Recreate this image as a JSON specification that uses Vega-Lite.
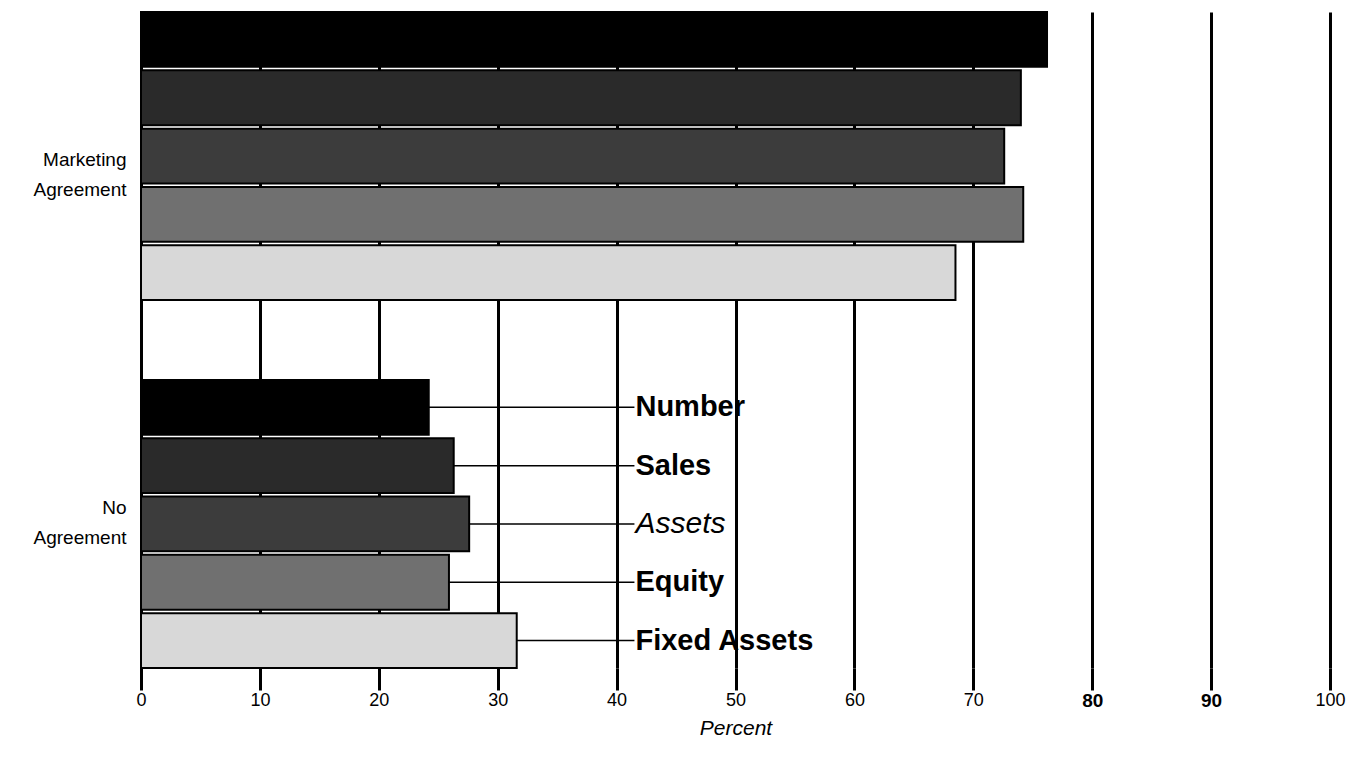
{
  "$schema": "https://vega.github.io/schema/vega-lite/v6.json",
  "width": 1189,
  "height": 656,
  "autosize": {"type": "none"},
  "padding": {"left": 141, "top": 12, "right": 32, "bottom": 101},
  "background": "white",
  "config": {"view": {"stroke": null}, "font": "Liberation Sans"},
  "data": {
    "values": [
      {"group": "Marketing Agreement", "series": "Number", "percent": 76.2},
      {"group": "Marketing Agreement", "series": "Sales", "percent": 74.0},
      {"group": "Marketing Agreement", "series": "Assets", "percent": 72.6},
      {"group": "Marketing Agreement", "series": "Equity", "percent": 74.2},
      {"group": "Marketing Agreement", "series": "Fixed Assets", "percent": 68.5},
      {"group": "No Agreement", "series": "Number", "percent": 24.2},
      {"group": "No Agreement", "series": "Sales", "percent": 26.3},
      {"group": "No Agreement", "series": "Assets", "percent": 27.6},
      {"group": "No Agreement", "series": "Equity", "percent": 25.9},
      {"group": "No Agreement", "series": "Fixed Assets", "percent": 31.6}
    ]
  },
  "encoding": {
    "y": {
      "field": "group",
      "type": "nominal",
      "sort": ["Marketing Agreement", "No Agreement"],
      "scale": {"paddingInner": 0.217, "paddingOuter": 0},
      "axis": {
        "title": null,
        "domain": false,
        "ticks": false,
        "tickSize": 0,
        "labelPadding": 15,
        "labelFontSize": 19,
        "labelColor": "black",
        "labelLineHeight": 30,
        "labelExpr": "split(datum.label, ' ')",
        "labelOffset": {"condition": {"test": "datum.value == 'Marketing Agreement'", "value": 4}, "value": -16}
      }
    },
    "yOffset": {
      "field": "series",
      "type": "nominal",
      "sort": ["Number", "Sales", "Assets", "Equity", "Fixed Assets"],
      "scale": {"domain": ["Number", "Sales", "Assets", "Equity", "Fixed Assets"], "paddingInner": 0.06, "paddingOuter": 0}
    }
  },
  "layer": [
    {
      "transform": [{"filter": "datum.group == 'No Agreement'"}],
      "mark": {"type": "rule", "color": "black", "strokeWidth": 1.5},
      "encoding": {
        "x": {"field": "percent", "type": "quantitative"},
        "x2": {"datum": 41.5}
      }
    },
    {
      "mark": {"type": "bar", "stroke": "black", "strokeWidth": 2},
      "encoding": {
        "x": {
          "field": "percent",
          "type": "quantitative",
          "scale": {"domain": [0, 100], "nice": false},
          "axis": {
            "title": "Percent",
            "values": [0, 10, 20, 30, 40, 50, 60, 70, 80, 90, 100],
            "grid": true,
            "gridColor": "black",
            "gridWidth": 3,
            "gridOpacity": 1,
            "domain": false,
            "ticks": true,
            "tickSize": 22,
            "tickColor": "black",
            "tickWidth": 3,
            "labelFlush": false,
            "labelOverlap": false,
            "labelPadding": 1,
            "labelFontSize": {"condition": {"test": "datum.value == 80 || datum.value == 90", "value": 19}, "value": 18},
            "labelColor": "black",
            "labelFontWeight": {"condition": {"test": "datum.value == 80 || datum.value == 90", "value": "bold"}, "value": "normal"},
            "titleFontSize": 21,
            "titleFontStyle": "italic",
            "titleFontWeight": "normal",
            "titleColor": "black",
            "titlePadding": 7
          }
        },
        "color": {
          "field": "series",
          "type": "nominal",
          "legend": null,
          "scale": {
            "domain": ["Number", "Sales", "Assets", "Equity", "Fixed Assets"],
            "range": ["#000000", "#2a2a2a", "#3c3c3c", "#707070", "#d8d8d8"]
          }
        }
      }
    },
    {
      "transform": [{"filter": "datum.group == 'No Agreement' && datum.series != 'Assets'"}],
      "mark": {"type": "text", "align": "left", "baseline": "middle", "fontSize": 29, "fontWeight": "bold", "color": "black", "dx": 1},
      "encoding": {
        "x": {"datum": 41.5},
        "text": {"field": "series"}
      }
    },
    {
      "transform": [{"filter": "datum.group == 'No Agreement' && datum.series == 'Assets'"}],
      "mark": {"type": "text", "align": "left", "baseline": "middle", "fontSize": 30, "fontStyle": "italic", "fontWeight": "normal", "color": "black", "dx": 1},
      "encoding": {
        "x": {"datum": 41.5},
        "text": {"field": "series"}
      }
    }
  ]
}
